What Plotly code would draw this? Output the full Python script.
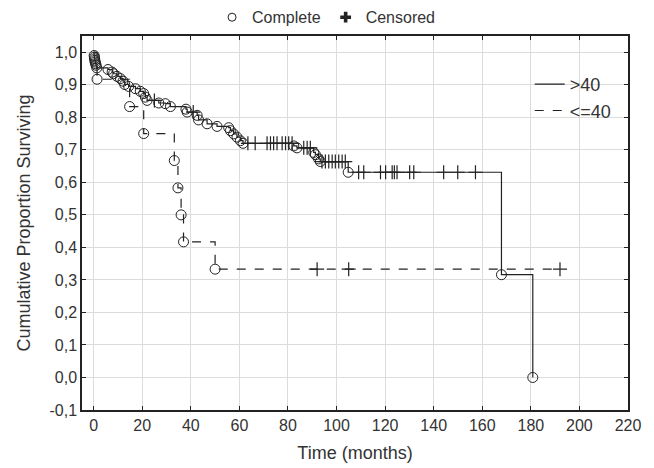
import plotly.graph_objects as go

# ---- data ----
# group >40 : event (complete) times and survival after each event
gt40_event_t = [0.2, 0.3, 0.4, 0.5, 0.6, 0.8, 1.0, 1.3, 5.9, 7.6, 8.2, 9.6, 11.0, 12.1, 12.8, 14.4,
                17.2, 19.2, 20.6, 21.3, 22.0, 26.8, 29.5, 31.6, 38.0, 38.5, 42.6, 43.2, 46.7,
                50.8, 55.6, 56.3, 57.6, 59.0, 60.4, 61.5, 82.4, 83.7, 90.6, 91.3, 92.6, 93.3,
                104.8, 167.9, 180.8]
gt40_event_s = [0.990, 0.985, 0.980, 0.975, 0.970, 0.965, 0.960, 0.952, 0.947, 0.939, 0.934, 0.926,
                0.919, 0.911, 0.901, 0.895, 0.888, 0.880, 0.873, 0.862, 0.852, 0.844, 0.842, 0.833,
                0.825, 0.816, 0.806, 0.792, 0.780, 0.772, 0.768, 0.759, 0.749, 0.739, 0.728, 0.720,
                0.712, 0.706, 0.692, 0.685, 0.672, 0.664, 0.631, 0.316, 0.000]
gt40_cens_t = [25.0, 41.0, 63.5, 66.5, 71.4, 72.8, 74.1, 75.5, 77.6, 79.0, 80.3, 81.7, 86.5, 87.9,
               89.2, 94.0, 95.4, 96.8, 98.2, 99.5, 100.9, 102.3, 103.6, 109.1, 111.2, 118.1,
               120.2, 122.9, 123.8, 124.9, 130.1, 131.8, 144.1, 149.9, 157.2]
gt40_cens_s = [0.852, 0.816, 0.720, 0.720, 0.720, 0.720, 0.720, 0.720, 0.720, 0.720, 0.720, 0.720,
               0.706, 0.706, 0.706, 0.664, 0.664, 0.664, 0.664, 0.664, 0.664, 0.664, 0.664,
               0.631, 0.631, 0.631, 0.631, 0.631, 0.631, 0.631, 0.631, 0.631, 0.631, 0.631, 0.631]

# group <=40
le40_event_t = [1.4, 14.8, 20.6, 33.2, 34.7, 36.0, 37.0, 50.0]
le40_event_s = [0.917, 0.833, 0.750, 0.667, 0.583, 0.500, 0.417, 0.333]
le40_cens_t = [92.0, 105.0, 192.0]
le40_cens_s = [0.333, 0.333, 0.333]

x_tick_vals = [0, 20, 40, 60, 80, 100, 120, 140, 160, 180, 200, 220]
y_tick_vals = [-0.1, 0.0, 0.1, 0.2, 0.3, 0.4, 0.5, 0.6, 0.7, 0.8, 0.9, 1.0]
y_tick_text = ["-0,1", "0,0", "0,1", "0,2", "0,3", "0,4", "0,5", "0,6", "0,7", "0,8", "0,9", "1,0"]

INK = "#222222"
TXT = "#333333"


def step_path(ev_t, ev_s, ce_t, ce_s):
    pts = sorted([(t, s) for t, s in zip(ev_t, ev_s)] + [(t, s) for t, s in zip(ce_t, ce_s)])
    xs = [0.0] + [p[0] for p in pts]
    ys = [1.0] + [p[1] for p in pts]
    return xs, ys


fig = go.Figure()

for name, ev_t, ev_s, ce_t, ce_s, dash in [
    (">40", gt40_event_t, gt40_event_s, gt40_cens_t, gt40_cens_s, "solid"),
    ("<=40", le40_event_t, le40_event_s, le40_cens_t, le40_cens_s, "dash"),
]:
    xs, ys = step_path(ev_t, ev_s, ce_t, ce_s)
    fig.add_trace(go.Scatter(x=xs, y=ys, mode="lines", line=dict(color=INK, width=1.2, dash=dash, shape="hv"),
                             name=name, legend="legend2", hoverinfo="skip"))
    fig.add_trace(go.Scatter(x=ev_t, y=ev_s, mode="markers", showlegend=False,
                             marker=dict(symbol="circle-open", size=10, color=INK, line=dict(width=1, color=INK))))
    fig.add_trace(go.Scatter(x=ce_t, y=ce_s, mode="markers", showlegend=False,
                             marker=dict(symbol="cross-thin-open", size=10, color=INK, line=dict(width=1.2, color=INK))))

# top legend entries
fig.add_trace(go.Scatter(x=[None], y=[None], mode="markers", name="Complete", legend="legend",
                         marker=dict(symbol="circle-open", size=8, color=INK, line=dict(width=1, color=INK))))
fig.add_trace(go.Scatter(x=[None], y=[None], mode="markers", name="Censored", legend="legend",
                         marker=dict(symbol="cross", size=9, color=INK, line=dict(width=0))))

fig.update_layout(
    width=646, height=460,
    margin=dict(l=74, r=26, t=28, b=58, autoexpand=False),
    paper_bgcolor="white", plot_bgcolor="white",
    font=dict(family="Liberation Sans, Arial, sans-serif", size=16, color=TXT),
    legend=dict(orientation="h", x=0.447, y=1.05, xanchor="center", yanchor="middle",
                font=dict(size=16, color=TXT), bgcolor="rgba(0,0,0,0)", itemwidth=30,
                borderwidth=0),
    legend2=dict(x=0.82, y=0.92, xanchor="left", yanchor="top", font=dict(size=18, color=TXT),
                 bgcolor="rgba(0,0,0,0)", tracegroupgap=0),
    xaxis=dict(range=[-4.8, 220], tickvals=x_tick_vals, ticks="inside", ticklen=4, tickcolor=INK,
               showline=True, linecolor=INK, linewidth=1.5, mirror="ticks",
               showgrid=True, gridcolor="#dcdcdc", gridwidth=1, zeroline=False,
               title=dict(text="Time (months)", font=dict(size=18, color=TXT), standoff=13),
               tickfont=dict(size=16, color=TXT)),
    yaxis=dict(range=[-0.1, 1.05], tickvals=y_tick_vals, ticktext=y_tick_text, ticks="inside", ticklen=4,
               tickcolor=INK, showline=True, linecolor=INK, linewidth=1.5, mirror="ticks",
               showgrid=True, gridcolor="#dcdcdc", gridwidth=1, zeroline=False,
               title=dict(text="Cumulative Proportion Surviving", font=dict(size=18, color=TXT), standoff=14),
               tickfont=dict(size=16, color=TXT)),
)

fig.write_html("out.html")
